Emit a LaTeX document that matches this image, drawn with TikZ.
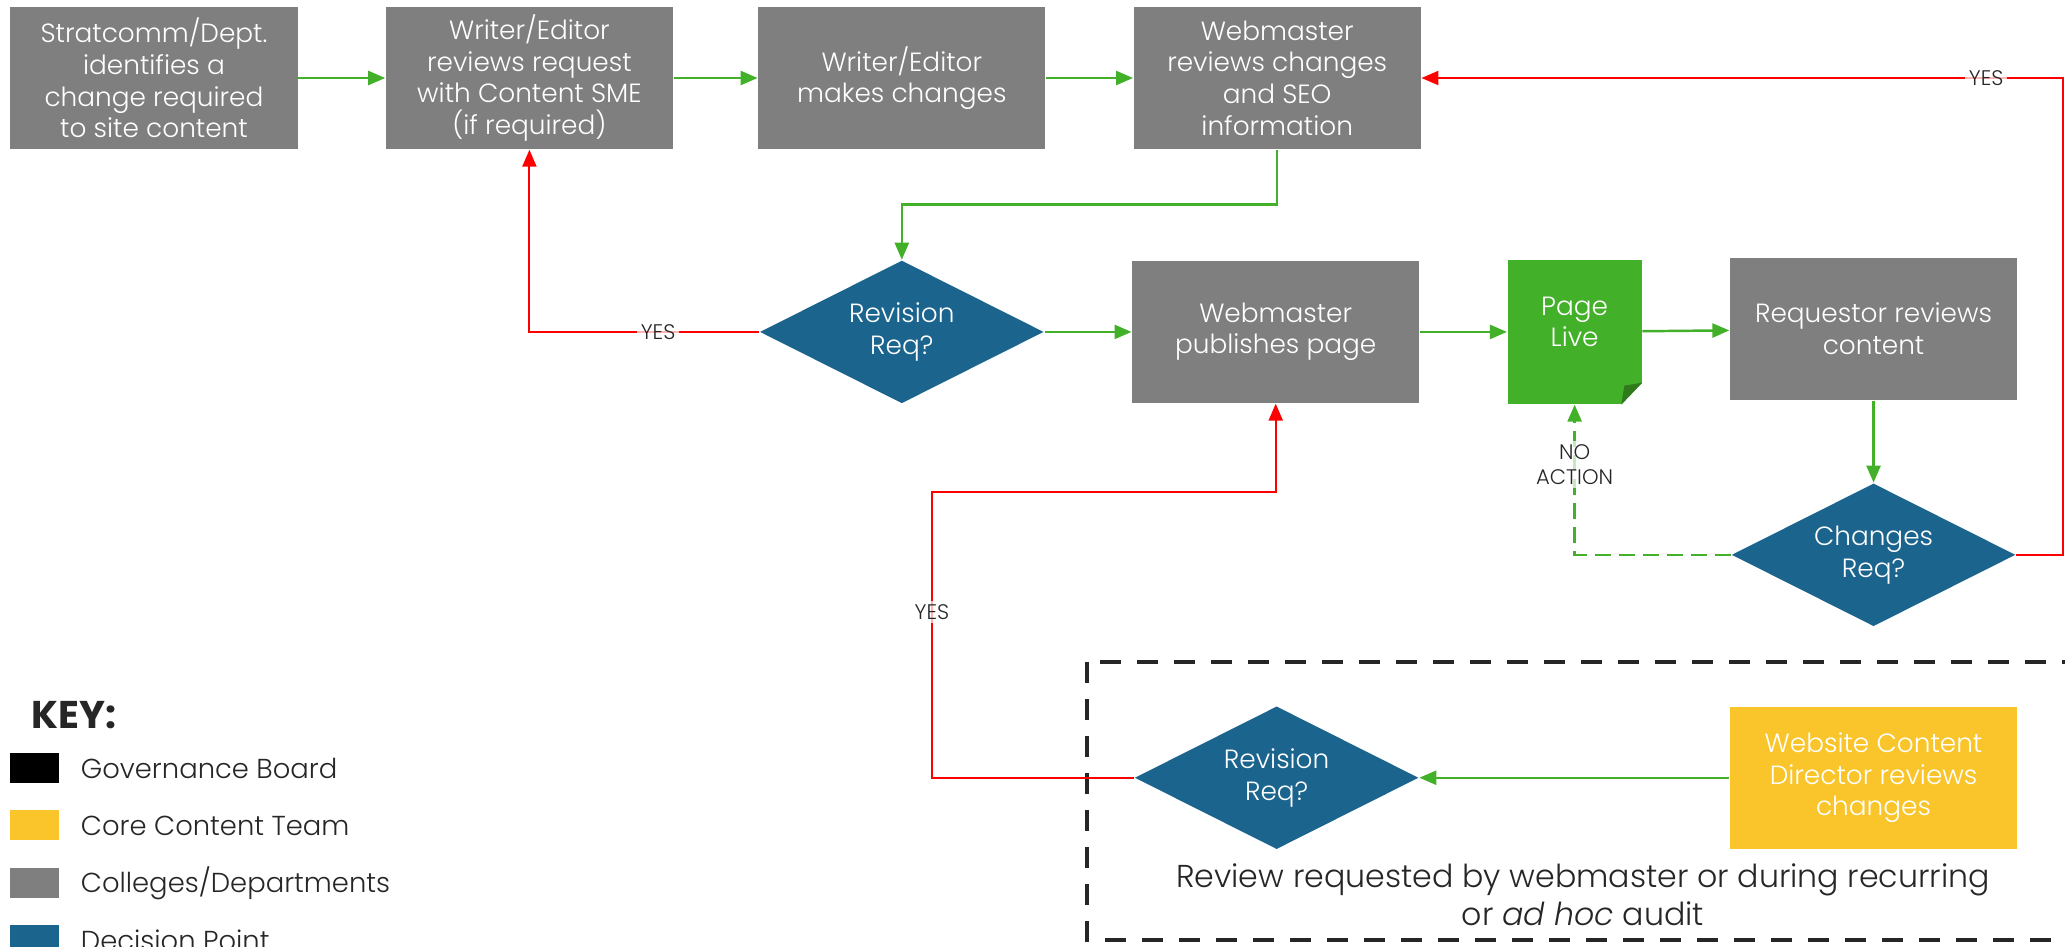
\documentclass[tikz,border=0pt]{standalone}
\usepackage{fontspec}
\setmainfont{Poppins Light}[BoldFont={Poppins Bold},ItalicFont={Poppins Light Italic}]
\usepackage{tikz}
\usetikzlibrary{arrows.meta,positioning,shapes.geometric}

\definecolor{boxgray}{HTML}{7F7F7F}
\definecolor{decblue}{HTML}{1B648D}
\definecolor{flowgreen}{HTML}{43B02A}
\definecolor{foldgreen}{HTML}{2E7A1C}
\definecolor{coreyellow}{HTML}{F9C52B}
\definecolor{loopred}{HTML}{FF0000}
\definecolor{inkgray}{HTML}{262626}

\begin{document}
\begin{tikzpicture}[
  node distance=8.7mm and 8.7mm,
  box/.style={fill=boxgray,text=white,align=center,inner sep=2pt,minimum width=28.7mm,minimum height=14.2mm,font=\fontsize{7.5}{9}\selectfont},
  decision/.style={diamond,aspect=2,fill=decblue,text=white,align=center,inner sep=0pt,minimum width=28.4mm,minimum height=14.3mm,font=\fontsize{7.5}{9}\selectfont},
  live/.style={fill=flowgreen,inner sep=0pt,minimum width=13.4mm,minimum height=14.4mm},
  garr/.style={-{Triangle[length=1.7mm,width=1.4mm]},flowgreen,line width=0.7pt},
  rarr/.style={-{Triangle[length=1.7mm,width=1.4mm]},loopred,line width=0.6pt},
  lbl/.style={font=\fontsize{6}{7.2}\selectfont,text=inkgray,fill=white,fill opacity=0.7,text opacity=1,inner sep=1pt,align=center},
  keysq/.style={minimum width=4.9mm,minimum height=3mm,inner sep=0pt},
  keytxt/.style={font=\fontsize{7.8}{9}\selectfont,text=inkgray,inner sep=0pt}]
  \useasboundingbox (-1.54,0.78) rectangle (19.11,-8.68);
  % main flow
  \node[box] (ident) {Stratcomm/Dept.\\identifies a\\change required\\to site content};
  \node[box,right=of ident] (sme) {Writer/Editor\\reviews request\\with Content SME\\(if required)};
  \node[box,right=8.4mm of sme] (edit) {Writer/Editor\\makes changes};
  \node[box,right=of edit] (seo) {Webmaster\\reviews changes\\and SEO\\information};
  \node[decision,below=11mm of edit] (rev1) {Revision\\Req?};
  \node[box,right=of rev1] (publish) {Webmaster\\publishes page};
  \node[live,right=of publish] (pagelive) {};
  \fill[white] ([xshift=-2.1mm]pagelive.south east) -- (pagelive.south east) -- ([yshift=2.2mm]pagelive.south east) -- cycle;
  \fill[foldgreen] ([xshift=-2.1mm]pagelive.south east) -- ([yshift=2.2mm]pagelive.south east) -- ([xshift=-1.8mm,yshift=1.9mm]pagelive.south east) -- cycle;
  \node[text=white,align=center,font=\fontsize{7.5}{9}\selectfont] (livetxt) at ([yshift=1mm]pagelive.center) {Page\\Live};
  \node[box,right=of pagelive,yshift=0.3mm] (reqrev) {Requestor reviews\\content};
  \node[decision,below=8.2mm of reqrev] (chg) {Changes\\Req?};
  \node[box,fill=coreyellow,below=7.9mm of chg] (director) {Website Content\\Director reviews\\changes};
  \node[decision,left=31mm of director] (rev2) {Revision\\Req?};
  \node[font=\fontsize{9}{10.8}\selectfont,text=inkgray,align=center] (audit) at (14.29,-8.17) {Review requested by webmaster or during recurring\\or \textit{ad hoc} audit};
  \draw[inkgray,line width=1.2pt,dash pattern=on 2.1mm off 1.6mm] (9.33,-5.84) rectangle (19.3,-8.62);
  % connectors
  \draw[garr] (ident)--(sme);
  \draw[garr] (sme)--(edit);
  \draw[garr] (edit)--(seo);
  \draw[garr] (seo.south) -- ++(0,-5.5mm) -| (rev1.north);
  \draw[rarr] (rev1.west) -| node[lbl,pos=0.22] {YES} (sme.south);
  \draw[garr] (rev1)--(publish);
  \draw[garr] (publish)--(pagelive);
  \draw[garr] (pagelive)--(reqrev);
  \draw[garr] (reqrev)--(chg);
  \draw[rarr] (chg.east) -- ++(4.7mm,0) |- node[lbl,pos=0.56] {YES} (seo.east);
  \draw[garr,dash pattern=on 1.6mm off 0.8mm] (chg.west) -| node[lbl,pos=0.8] {NO\\ACTION} (pagelive.south);
  \draw[garr] (director)--(rev2);
  \draw[rarr] (rev2.west) -| node[lbl,pos=0.79] {YES} ++(-20.2mm,28.6mm) -| (publish.south);
  % key
  \node[font=\bfseries\fontsize{11}{13}\selectfont,text=inkgray,anchor=west,inner sep=0pt] (keyhead) at (-1.23,-6.37) {KEY:};
  \node[keysq,fill=black] (kgov) at (-1.19,-6.90) {};
  \node[keysq,fill=coreyellow,below=2.6mm of kgov] (kcore) {};
  \node[keysq,fill=boxgray,below=2.6mm of kcore] (kcol) {};
  \node[keysq,fill=decblue,below=2.6mm of kcol] (kdec) {};
  \node[keytxt,right=2mm of kgov] (tgov) {Governance Board};
  \node[keytxt,right=2mm of kcore] (tcore) {Core Content Team};
  \node[keytxt,right=2mm of kcol] (tcol) {Colleges/Departments};
  \node[keytxt,right=2mm of kdec] (tdec) {Decision Point};
\end{tikzpicture}
\end{document}
